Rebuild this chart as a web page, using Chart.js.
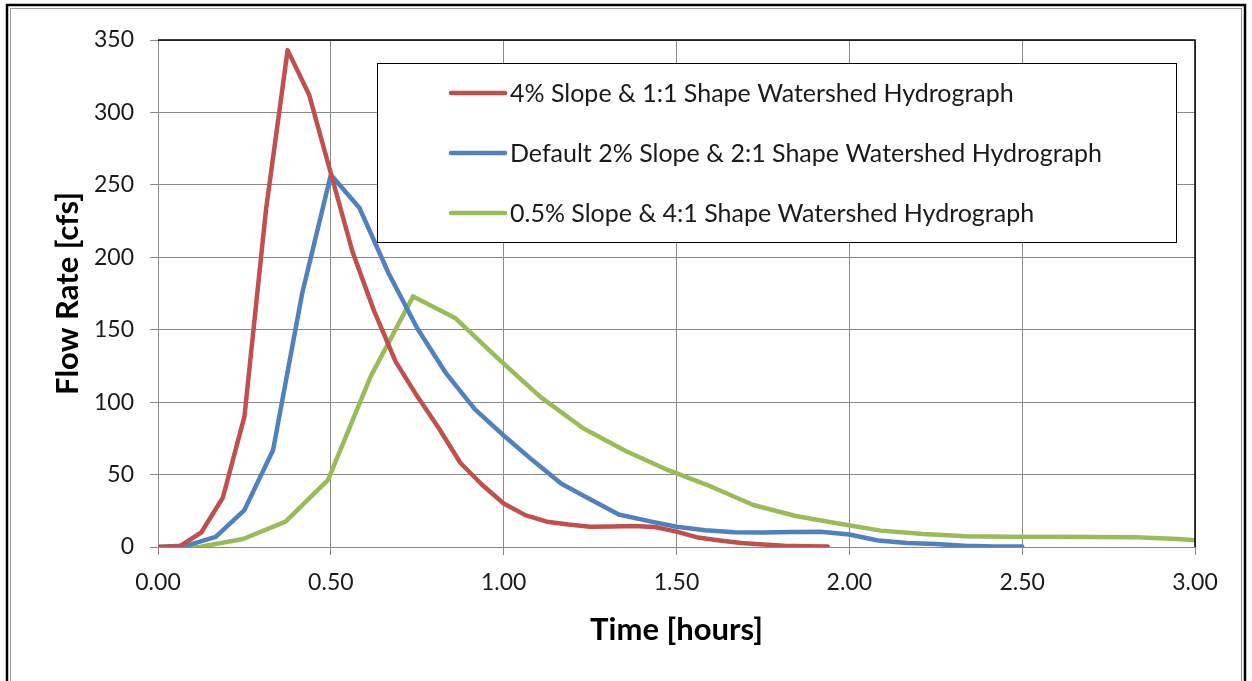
<!DOCTYPE html>
<html>
<head>
<meta charset="utf-8">
<title>Watershed Hydrographs</title>
<script src="https://cdn.jsdelivr.net/npm/chart.js@4/dist/chart.umd.min.js"></script>
<style>
  html, body { margin: 0; padding: 0; background: #ffffff; }
  #wrap { position: relative; width: 1252px; height: 681px; }
</style>
</head>
<body>
<div id="wrap"><canvas id="chart" width="1252" height="681"></canvas></div>
<script>
// Hydrograph ordinates: time in hours, flow in cfs
const seriesLabels = [
  '4% Slope & 1:1 Shape Watershed Hydrograph',
  'Default 2% Slope & 2:1 Shape Watershed Hydrograph',
  '0.5% Slope & 4:1 Shape Watershed Hydrograph'
];

const steepTime = [0, 0.0625, 0.125, 0.1875, 0.25, 0.3125, 0.375, 0.4375, 0.5, 0.5625,
  0.625, 0.6875, 0.75, 0.8125, 0.875, 0.9375, 1.0, 1.0625, 1.125, 1.1875,
  1.25, 1.3125, 1.375, 1.4375, 1.5, 1.5625, 1.625, 1.6875, 1.75, 1.8125, 1.875, 1.9375];
const steepFlow = [0, 0.5, 10, 34, 90, 233, 343, 312, 258, 204,
  163, 128, 104, 82, 58, 43, 30, 22, 17.5, 15.5,
  14, 14.2, 14.5, 13.8, 10.6, 6.5, 4.5, 2.8, 1.7, 0.9, 0.5, 0.3];

const defaultTime = [0, 0.083, 0.167, 0.25, 0.333, 0.417, 0.5, 0.583, 0.667, 0.75,
  0.833, 0.917, 1.0, 1.083, 1.167, 1.25, 1.333, 1.417, 1.5, 1.583,
  1.667, 1.75, 1.833, 1.917, 2.0, 2.083, 2.167, 2.25, 2.333, 2.417, 2.5];
const defaultFlow = [0, 1, 7, 25.5, 67, 175, 257, 234, 189, 151,
  120, 95, 77, 60, 43.6, 33, 22.4, 18, 14, 11.5,
  10.1, 10, 10.3, 10.5, 8.6, 4.5, 2.8, 2, 0.8, 0.3, 0.3];

const flatTime = [0, 0.123, 0.246, 0.369, 0.492, 0.615, 0.738, 0.861, 0.984, 1.107,
  1.23, 1.353, 1.476, 1.599, 1.722, 1.845, 1.968, 2.091, 2.214, 2.337,
  2.46, 2.583, 2.706, 2.829, 2.952, 3.075];
const flatFlow = [0, 0.2, 5.5, 17.5, 46.3, 117.6, 173, 157.9, 130, 103.5,
  82, 66.3, 53, 41.8, 29, 21.4, 16.2, 11.3, 9, 7.5,
  7.1, 7.0, 6.9, 6.7, 5.5, 3.5];

const timeTicks = [0, 0.5, 1.0, 1.5, 2.0, 2.5, 3.0];
const flowTicks = [0, 50, 100, 150, 200, 250, 300, 350];

const seriesColors = ['#C0504D', '#4F81BD', '#9BBB59'];

function pairs(xs, ys) {
  return xs.map((x, i) => ({ x: x, y: ys[i] }));
}

const FONT = 'Lato, "Open Sans", "DejaVu Sans", sans-serif';
const TEXT = '#1a1a1a';
const GRID = '#8a8a8a';

// Page frame, plot-area outline and the boxed legend inside the plot
const decorations = {
  id: 'decorations',
  beforeDraw(chart) {
    const ctx = chart.ctx;
    ctx.save();
    ctx.fillStyle = '#ffffff';
    ctx.fillRect(0, 0, chart.width, chart.height);
    ctx.restore();
  },
  afterDraw(chart) {
    const ctx = chart.ctx;
    const a = chart.chartArea;
    ctx.save();
    // top and right edges of the plot area
    ctx.strokeStyle = '#000000';
    ctx.lineWidth = 1.5;
    ctx.beginPath();
    ctx.moveTo(a.left, a.top);
    ctx.lineTo(a.right, a.top);
    ctx.lineTo(a.right, a.bottom);
    ctx.stroke();

    // outer frame
    ctx.lineWidth = 2.5;
    ctx.strokeStyle = '#000000';
    ctx.strokeRect(7, 5, 1238, 700);
    ctx.lineWidth = 1;
    ctx.strokeStyle = '#9a9a9a';
    ctx.strokeRect(10.5, 8.5, 1231, 700);

    // legend
    const bx = 377, by = 63, bw = 799, bh = 179;
    ctx.fillStyle = '#ffffff';
    ctx.fillRect(bx, by, bw, bh);
    ctx.strokeStyle = '#000000';
    ctx.lineWidth = 1;
    ctx.strokeRect(bx + 0.5, by + 0.5, bw, bh);
    ctx.font = '25px ' + FONT;
    ctx.textBaseline = 'alphabetic';
    ctx.textAlign = 'left';
    chart.data.datasets.forEach((ds, i) => {
      const y = 93 + i * 60;
      ctx.strokeStyle = ds.borderColor;
      ctx.lineWidth = 4.5;
      ctx.lineCap = 'round';
      ctx.beginPath();
      ctx.moveTo(451, y);
      ctx.lineTo(505, y);
      ctx.stroke();
      ctx.fillStyle = TEXT;
      ctx.fillText(ds.label, 510, y + 9);
    });
    ctx.restore();
  }
};

const lineStyle = (i) => ({
  borderColor: seriesColors[i],
  backgroundColor: seriesColors[i],
  borderWidth: 4.5,
  pointRadius: 0,
  showLine: true,
  tension: 0,
  borderJoinStyle: 'round',
  borderCapStyle: 'round',
  fill: false
});

new Chart(document.getElementById('chart').getContext('2d'), {
  type: 'scatter',
  data: {
    datasets: [
      Object.assign({ label: seriesLabels[0], data: pairs(steepTime, steepFlow) }, lineStyle(0)),
      Object.assign({ label: seriesLabels[1], data: pairs(defaultTime, defaultFlow) }, lineStyle(1)),
      Object.assign({ label: seriesLabels[2], data: pairs(flatTime, flatFlow) }, lineStyle(2))
    ]
  },
  options: {
    responsive: false,
    animation: false,
    devicePixelRatio: 1,
    layout: { padding: { left: 0, top: 40, right: 57, bottom: 0 } },
    plugins: { legend: { display: false }, tooltip: { enabled: false } },
    scales: {
      x: {
        type: 'linear',
        min: timeTicks[0],
        max: timeTicks[timeTicks.length - 1],
        afterBuildTicks(scale) { scale.ticks = timeTicks.map(v => ({ value: v })); },
        afterFit(scale) { scale.height = 134; },
        ticks: {
          callback: (v) => Number(v).toFixed(2),
          font: { family: FONT, size: 23 },
          color: TEXT,
          padding: 14,
          maxRotation: 0
        },
        grid: { color: GRID, lineWidth: 1, tickLength: 8 },
        border: { color: GRID, width: 1 },
        title: {
          display: true,
          text: 'Time [hours]',
          font: { family: FONT, size: 31, weight: 'bold' },
          color: '#000000',
          padding: { top: 0, bottom: 32 }
        }
      },
      y: {
        type: 'linear',
        min: flowTicks[0],
        max: flowTicks[flowTicks.length - 1],
        afterBuildTicks(scale) { scale.ticks = flowTicks.map(v => ({ value: v })); },
        afterFit(scale) { scale.width = 158; },
        ticks: {
          font: { family: FONT, size: 23 },
          color: TEXT,
          padding: 16
        },
        grid: { color: GRID, lineWidth: 1, tickLength: 8 },
        border: { color: GRID, width: 1 },
        title: {
          display: true,
          text: 'Flow Rate [cfs]',
          font: { family: FONT, size: 31, weight: 'bold' },
          color: '#000000',
          padding: { top: 49, bottom: 0 }
        }
      }
    }
  },
  plugins: [decorations]
});
</script>
</body>
</html>
